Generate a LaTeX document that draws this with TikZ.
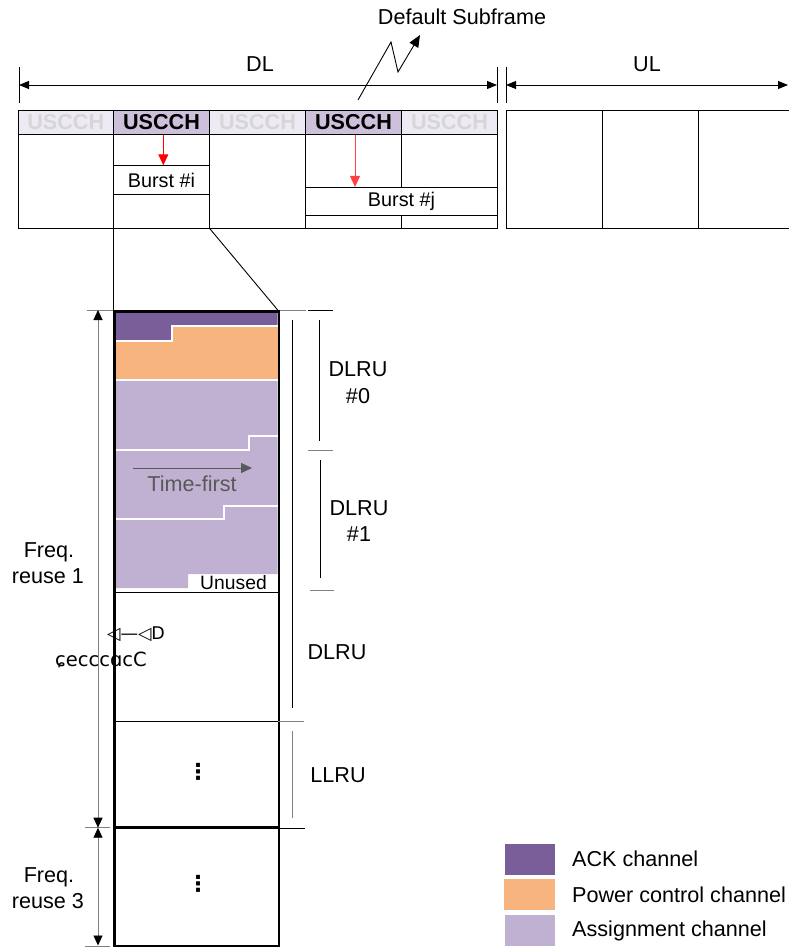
\documentclass[tikz,border=0pt]{standalone}
\usepackage{fontspec}
\setmainfont{Liberation Sans}
\newfontfamily\dejavu{DejaVu Sans}
\usetikzlibrary{arrows.meta}
\definecolor{ackc}{HTML}{7A5E99}
\definecolor{pcc}{HTML}{F8B47E}
\definecolor{asgc}{HTML}{C0B0D2}
\definecolor{usdark}{HTML}{CCC0DA}
\definecolor{uslight}{HTML}{EEEAF4}
\definecolor{ustext}{HTML}{D6D6D6}
\definecolor{tickgray}{HTML}{808080}
\definecolor{tfgray}{HTML}{595959}
\tikzset{
  lbl/.style={font=\fontsize{21.6}{24}\selectfont, inner sep=0pt},
  uscell/.style={draw, line width=0.9pt, minimum height=24.3pt, minimum width=96pt,
     inner sep=0pt, font=\bfseries\fontsize{21.6}{24}\selectfont},
  burstbox/.style={draw, line width=0.9pt, fill=white, inner sep=0pt, minimum height=28.5pt,
     font=\fontsize{19.8}{22}\selectfont},
  thinln/.style={line width=0.9pt},
  grayln/.style={line width=0.9pt, draw=tickgray},
  dimarrow/.style={line width=0.9pt, {Triangle[length=10pt,width=8pt]}-{Triangle[length=10pt,width=8pt]}},
  freqarrow/.style={line width=0.9pt, draw=tickgray, {Triangle[length=10pt,width=9pt,color=black]}-{Triangle[length=10pt,width=9pt,color=black]}},
  redarrow/.style={line width=1pt, draw=red, -{Triangle[length=11pt,width=10pt]}},
  zzarrow/.style={line width=0.9pt, -{Triangle[length=12pt,width=10pt]}},
  tfarrow/.style={line width=1pt, draw=tfgray, -{Triangle[length=11pt,width=10pt]}},
  whiteln/.style={draw=white, line width=1.8pt},
  legbox/.style={minimum width=50pt, minimum height=31pt, inner sep=0pt},
  colbox/.style={draw, line width=2.6pt, minimum width=164.4pt, minimum height=635pt, inner sep=0pt, anchor=north west},
  dotsnode/.style={font=\dejavu\bfseries\fontsize{22}{22}\selectfont, inner sep=0pt},
}
\begin{document}
\begin{tikzpicture}[x=1pt,y=-1pt]
\useasboundingbox (0,0) rectangle (788,947);

% ---------- top dimension arrows ----------
\draw[thinln] (19,67) -- (19,103);
\draw[thinln] (497,67) -- (497,103);
\draw[thinln] (506,67) -- (506,103);
\coordinate (dlL) at (19,85); \coordinate (dlR) at (497,85);
\coordinate (ulL) at (506,85); \coordinate (ulR) at (788,85);
\draw[dimarrow] (dlL) -- (dlR);
\draw[dimarrow] (ulL) -- (ulR);
\node[lbl, anchor=base] (dl) at (260,72) {DL};
\node[lbl, anchor=base] (ul) at (647,72) {UL};
\node[lbl, anchor=base] (ds) at (462,25) {Default Subframe};
\coordinate (z0) at (358,100); \coordinate (z1) at (391,42);
\coordinate (z2) at (398,72); \coordinate (z3) at (420,35);
\draw[zzarrow] (z0) -- (z1) -- (z2) -- (z3);

% ---------- DL subframes ----------
\node[uscell, fill=uslight, text=ustext, minimum width=95.5pt] (u1) at (65.75,122.15) {USCCH};
\node[uscell, fill=usdark] (u2) at (161.5,122.15) {USCCH};
\node[uscell, fill=uslight, text=ustext] (u3) at (257.5,122.15) {USCCH};
\node[uscell, fill=usdark] (u4) at (353.5,122.15) {USCCH};
\node[uscell, fill=uslight, text=ustext] (u5) at (449.5,122.15) {USCCH};
\draw[thinln] (18,134.3) -- (18,228.3) -- (497.5,228.3) -- (497.5,134.3);
\draw[thinln] (113.5,134.3) -- (113.5,228.3);
\draw[thinln] (209.5,134.3) -- (209.5,228.3);
\draw[thinln] (305.5,134.3) -- (305.5,228.3);
\draw[thinln] (401.5,134.3) -- (401.5,187.3);
\draw[thinln] (401.5,216) -- (401.5,228.3);
\node[burstbox, minimum width=96pt] (bi) at (161.5,180) {Burst \#i};
\node[burstbox, minimum width=192pt] (bj) at (401.5,201.6) {Burst \#j};
\draw[redarrow] (u2.south -| 163.3,0) -- (bi.north -| 163.3,0);
\draw[redarrow, draw=red!75] (u4.south -| 355,0) -- (bj.north -| 355,0);

% ---------- UL subframes ----------
\draw[thinln] (792,110) -- (506,110) -- (506,228.3) -- (792,228.3);
\draw[thinln] (602,110) -- (602,228.3);
\draw[thinln] (698,110) -- (698,228.3);

% ---------- zoom lines ----------
\coordinate (zl0) at (113.3,228.3); \coordinate (zl1) at (113.3,310);
\coordinate (zr0) at (209.5,228.3); \coordinate (zr1) at (277.7,310);
\draw[thinln] (zl0) -- (zl1);
\draw[thinln] (zr0) -- (zr1);

% ---------- column fills ----------
\fill[asgc] (113.3,380) -- (277.7,380) -- (277.7,574) -- (188,574) -- (188,588) -- (113.3,588) -- cycle;
\fill[pcc] (113.3,326) rectangle (277.7,380);
\fill[ackc] (113.3,310) -- (277.7,310) -- (277.7,326) -- (172,326) -- (172,341) -- (113.3,341) -- cycle;
\draw[whiteln] (113.3,341) -- (172,341) -- (172,326) -- (277.7,326);
\draw[whiteln] (113.3,380) -- (277.7,380);
\draw[whiteln] (113.3,450) -- (249,450) -- (249,436) -- (277.7,436);
\draw[whiteln] (113.3,519) -- (224,519) -- (224,506) -- (277.7,506);
\coordinate (tf0) at (133,468); \coordinate (tf1) at (252,468);
\draw[tfarrow] (tf0) -- (tf1);
\node[lbl, anchor=base, text=tfgray] (tf) at (192,491.5) {Time-first};
\node[font=\fontsize{19.3}{22}\selectfont, inner sep=0pt, anchor=base] (unused) at (233.5,589) {Unused};

% gray top guide line
\draw[grayln] (87,310) -- (306,310);

% column separators and border
\draw[line width=1pt] (113.3,592) -- (277.7,592);
\draw[line width=1pt] (113.3,721) -- (277.7,721);
\draw[line width=2.6pt] (113.3,827.5) -- (277.7,827.5);
\node[colbox] (col) at (113.3,310) {};
\node[dotsnode] (dots1) at (198,772) {⋮};
\node[dotsnode] (dots2) at (198,884) {⋮};

% garbled channel label
\node[font=\dejavu\fontsize{17.5}{17.5}\selectfont, inner sep=0pt] (g1) at (136,634) {◁—◁D};
\node[font=\dejavu\fontsize{19.5}{19.5}\selectfont, inner sep=0pt] (g2) at (101,660) {ɕecccɑcC};

% ---------- right brackets ----------
\draw[thinln] (308,310) -- (333,310);
\draw[grayln] (308,450) -- (333,450);
\draw[grayln] (310,590) -- (334,590);
\draw[thinln] (319.5,320) -- (319.5,441);
\draw[thinln] (320.5,460) -- (320.5,578);
\draw[thinln] (292,320) -- (292,708);
\draw[grayln] (278,721) -- (304,721);
\draw[grayln] (292.7,731) -- (292.7,818);
\draw[thinln] (278,828) -- (305,828);
\node[lbl, anchor=base] (d0a) at (358,376) {DLRU};
\node[lbl, anchor=base] (d0b) at (358,403) {\#0};
\node[lbl, anchor=base] (d1a) at (359,515) {DLRU};
\node[lbl, anchor=base] (d1b) at (359,541) {\#1};
\node[lbl, anchor=base] (d2) at (337,659) {DLRU};
\node[lbl, anchor=base] (ll) at (338,782) {LLRU};

% ---------- left freq arrows ----------
\draw[grayln] (85,827.7) -- (110,827.7);
\draw[grayln] (85,946) -- (110,946);
\coordinate (f1t) at (98,310); \coordinate (f1b) at (98,827.7);
\coordinate (f3t) at (98,827.7); \coordinate (f3b) at (98,945.5);
\draw[freqarrow] (f1t) -- (f1b);
\draw[freqarrow] (f3t) -- (f3b);
\node[lbl, anchor=base] (fr1a) at (49,557) {Freq.};
\node[lbl, anchor=base] (fr1b) at (48,583) {reuse 1};
\node[lbl, anchor=base] (fr3a) at (49,882) {Freq.};
\node[lbl, anchor=base] (fr3b) at (48,908) {reuse 3};

% ---------- legend ----------
\node[legbox, fill=ackc] (lk) at (530,859.5) {};
\node[legbox, fill=pcc, minimum width=51pt] (lp) at (529.5,894.5) {};
\node[legbox, fill=asgc] (la) at (530,930) {};
\node[lbl, anchor=base west] (lkt) at (572,866.7) {ACK channel};
\node[lbl, anchor=base west] (lpt) at (572,902.7) {Power control channel};
\node[lbl, anchor=base west] (lat) at (572,936.7) {Assignment channel};
\end{tikzpicture}
\end{document}
